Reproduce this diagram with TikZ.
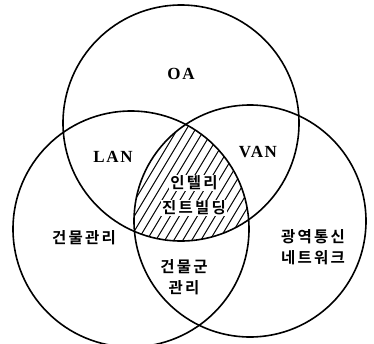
\documentclass[tikz,border=0pt]{standalone}
\usepackage{fontspec}
\newfontfamily\krfont[LetterSpace=14]{Noto Sans CJK KR Bold}
\newfontfamily\latfont[LetterSpace=10]{Liberation Serif Bold}
\begin{document}
\begin{tikzpicture}[x=1pt,y=-1pt,
  ring/.style={line width=1.6pt},
  hatchline/.style={line width=1pt},
  kor/.style={font=\krfont\fontsize{15.5}{21}\selectfont, align=center, inner sep=1pt},
  lat/.style={font=\latfont\fontsize{17}{18}\selectfont, inner sep=1pt},
  hole/.style={fill=white}]
\useasboundingbox (0,0) rectangle (374,343);
\coordinate (T) at (181,123);
\coordinate (L) at (131,229);
\coordinate (R) at (250,221);
% hatched triple intersection
\begin{scope}
  \clip (T) circle[radius=118pt];
  \clip (L) circle[radius=118pt];
  \clip (R) circle[radius=116pt];
  \foreach \i in {-20,...,20}
    \draw[hatchline] (120+\i*9,300) -- (270+\i*9,50);
\end{scope}
\draw[ring] (T) circle[radius=118pt];
\draw[ring] (L) circle[radius=118pt];
\draw[ring] (R) circle[radius=116pt];
% labels
\node[lat] (oa) at (181,74) {OA};
\node[lat] (lan) at (113,157) {LAN};
\node[lat] (van) at (258,152) {VAN};
\node[kor, hole] (ib1) at (194,183) {인텔리};
\node[kor, hole] (ib2) at (194,208) {진트빌딩};
\node[kor] (bm) at (84,238) {건물관리};
\node[kor] (wan) at (313,247) {광역통신\\네트워크};
\node[kor] (bg) at (184,277) {건물군\\관리};
\end{tikzpicture}
\end{document}
